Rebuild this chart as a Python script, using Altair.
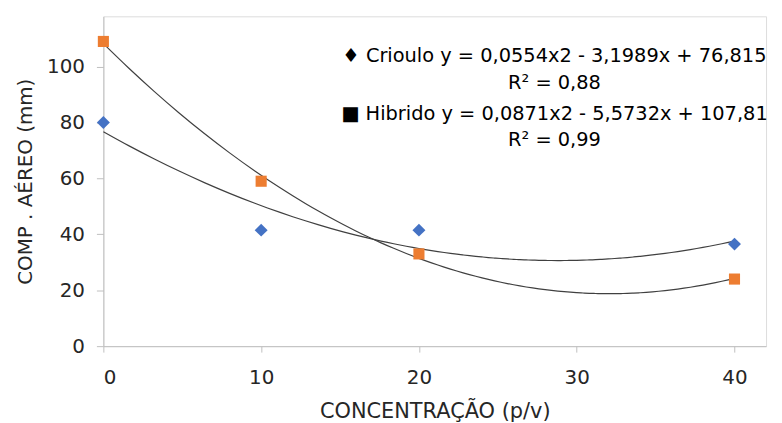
import altair as alt
import pandas as pd

conc = [0, 10, 20, 40]
crioulo = [80, 41.5, 41.5, 36.5]
hibrido = [109, 59, 33, 24]

legend_lines = [
    "\u2666 Crioulo y = 0,0554x2 - 3,1989x + 76,815",
    "R\u00b2 = 0,88",
    "\u25a0 Hibrido y = 0,0871x2 - 5,5732x + 107,81",
    "R\u00b2 = 0,99",
]
legend_y = [40, 67, 98, 125]

df = pd.DataFrame({
    "x": conc * 2,
    "y": crioulo + hibrido,
    "serie": ["Crioulo"] * 4 + ["Hibrido"] * 4,
})
leg = pd.DataFrame({"t": legend_lines, "py": legend_y})

FONT = "DejaVu Sans"

xs = alt.Scale(domain=[0, 42], nice=False, zero=False)
ys = alt.Scale(domain=[0, 118], nice=False)

xax = alt.Axis(values=[0, 10, 20, 30, 40], grid=False, title="CONCENTRAÇÃO (p/v)",
               domainColor="#bfbfbf", tickColor="#bfbfbf", tickSize=6,
               labelFontSize=20, labelFont=FONT, labelColor="#262626", labelPadding=16,
               titleFontSize=21, titleFont=FONT, titleFontWeight="normal",
               titleColor="#262626", titlePadding=13)
yax = alt.Axis(values=[0, 20, 40, 60, 80, 100], grid=False, title="COMP . AÉREO (mm)",
               domainColor="#bfbfbf", tickColor="#bfbfbf", tickSize=7,
               labelFontSize=20, labelFont=FONT, labelColor="#262626", labelPadding=12,
               titleFontSize=20, titleFont=FONT, titleFontWeight="normal",
               titleColor="#262626", titleX=-68)

base = alt.Chart(df)

curves = base.transform_regression(
    "x", "y", method="poly", order=2, extent=[0, 40], groupby=["serie"]
).mark_line(color="#404040", strokeWidth=1.2, interpolate="monotone").encode(
    x=alt.X("x:Q", scale=xs, axis=xax),
    y=alt.Y("y:Q", scale=ys, axis=yax),
    detail="serie:N",
)

pts = base.mark_point(filled=True, opacity=1).encode(
    x=alt.X("x:Q", scale=xs),
    y=alt.Y("y:Q", scale=ys),
    shape=alt.Shape("serie:N", scale=alt.Scale(domain=["Crioulo", "Hibrido"],
                                               range=["diamond", "square"]), legend=None),
    color=alt.Color("serie:N", scale=alt.Scale(domain=["Crioulo", "Hibrido"],
                                               range=["#4472C4", "#ED7D31"]), legend=None),
    size=alt.Size("serie:N", scale=alt.Scale(domain=["Crioulo", "Hibrido"],
                                             range=[170, 125]), legend=None),
)

texts = alt.Chart(leg).mark_text(font=FONT, fontSize=19.5, color="#000000",
                                 align="center", baseline="middle").encode(
    x=alt.value(454),
    y=alt.Y("py:Q", scale=None),
    text="t:N",
)

chart = alt.layer(curves, pts, texts).properties(
    width=667, height=332,
    autosize=alt.AutoSizeParams(type="none"),
    padding={"left": 96, "top": 7, "right": 8, "bottom": 76},
).configure_view(stroke=None).configure(background="white")

chart.save("out.html", embed_options={"renderer": "svg", "actions": False})
